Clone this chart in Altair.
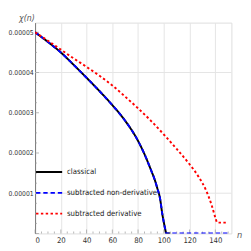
import altair as alt
import pandas as pd

# ---- data (chi in units of 1e-5) ----
series_names = ["classical", "subtracted non-derivative", "subtracted derivative"]
series_colors = ["#000000", "#0000ff", "#ff0000"]

n_classical = [0, 10, 20, 30, 40, 50, 60, 70, 80, 85, 90, 93, 95, 97, 99, 100, 101, 102, 105]
chi_classical = [5.00, 4.76, 4.50, 4.19, 3.87, 3.54, 3.19, 2.80, 2.30, 1.97, 1.58, 1.33, 1.12, 0.88, 0.45, 0.28, 0.12, 0.0, 0.0]

n_nonderiv = [0, 10, 20, 30, 40, 50, 60, 70, 80, 85, 90, 93, 95, 97, 99, 100, 101, 102, 150]
chi_nonderiv = [5.00, 4.76, 4.50, 4.19, 3.87, 3.54, 3.19, 2.80, 2.30, 1.97, 1.58, 1.33, 1.12, 0.88, 0.45, 0.28, 0.12, 0.0, 0.0]

n_deriv = [0, 10, 20, 30, 40, 50, 60, 70, 80, 90, 100, 110, 120, 127, 133, 137, 140, 141.5, 149]
chi_deriv = [5.00, 4.79, 4.57, 4.35, 4.14, 3.92, 3.68, 3.40, 3.11, 2.80, 2.46, 2.10, 1.72, 1.41, 1.06, 0.72, 0.40, 0.27, 0.27]

x_tick_labels = [0, 20, 40, 60, 80, 100, 120, 140]
x_minor_ticks = list(range(0, 151, 5))
y_tick_labels = [1e-5, 2e-5, 3e-5, 4e-5, 5e-5]
y_minor_ticks = [k * 0.25e-5 for k in range(0, 21)]
y_grid = [1e-5, 4e-5]

W, H = 203, 218
FONT = "DejaVu Sans Condensed, DejaVu Sans, sans-serif"

rows = []
for name, ns, cs in [(series_names[0], n_classical, chi_classical),
                     (series_names[1], n_nonderiv, chi_nonderiv),
                     (series_names[2], n_deriv, chi_deriv)]:
    for i, (n, c) in enumerate(zip(ns, cs)):
        rows.append({"series": name, "n": n, "chi": c * 1e-5, "i": i})
df = pd.DataFrame(rows)

xscale = alt.Scale(domain=[0, 152.5], nice=False, zero=False)
yscale = alt.Scale(domain=[0, 5.24e-5], nice=False)

xaxis = alt.Axis(values=x_tick_labels, grid=True, gridColor="#e4e4e4", gridWidth=1,
                 domain=False, ticks=False, labelPadding=3, labelFont=FONT,
                 labelFontSize=8, labelColor="#333333", labelOverlap=False,
                 title="n", titleFont=FONT, titleFontStyle="italic", titleFontWeight="normal",
                 titleFontSize=9.5, titleColor="#555555", titleAngle=0,
                 titleX=211, titleY=1, titleAlign="center", titleBaseline="middle")
yaxis = alt.Axis(values=y_tick_labels, format=".5f", grid=False,
                 domain=True, domainColor="#777777", ticks=False, labelPadding=2,
                 labelFont=FONT, labelFontSize=7, labelColor="#333333", labelOverlap=False,
                 title="χ(n)", titleFont=FONT, titleFontStyle="italic", titleFontWeight="normal",
                 titleFontSize=9, titleColor="#555555", titleAngle=0,
                 titleX=-9, titleY=-2, titleAlign="center", titleBaseline="alphabetic")

X = lambda f: alt.X(f, scale=xscale, axis=xaxis)
Y = lambda f: alt.Y(f, scale=yscale, axis=yaxis)

hgrid = alt.Chart(pd.DataFrame({"g": y_grid})).mark_rule(color="#e4e4e4", strokeWidth=1).encode(
    y=Y("g:Q")
)

xt = pd.DataFrame({"t": x_minor_ticks})
xt["major"] = xt["t"].isin(x_tick_labels)
minor_x = alt.Chart(xt[~xt["major"]]).mark_tick(color="#999999", thickness=1, size=2).encode(
    x=X("t:Q"), y=alt.value(H - 1)
)
major_x = alt.Chart(xt[xt["major"]]).mark_tick(color="#999999", thickness=1, size=4).encode(
    x=X("t:Q"), y=alt.value(H - 2)
)
yt = pd.DataFrame({"t": y_minor_ticks})
yt["major"] = [k % 4 == 0 for k in range(len(y_minor_ticks))]
minor_y = alt.Chart(yt[~yt["major"]]).mark_tick(color="#999999", thickness=1, size=2).encode(
    y=Y("t:Q"), x=alt.value(1)
)
major_y = alt.Chart(yt[yt["major"]]).mark_tick(color="#999999", thickness=1, size=4).encode(
    y=Y("t:Q"), x=alt.value(2)
)

lines = alt.Chart(df).mark_line(strokeWidth=2, interpolate="monotone", clip=True).encode(
    x=X("n:Q"),
    y=Y("chi:Q"),
    order="i:Q",
    color=alt.Color("series:N", scale=alt.Scale(domain=series_names, range=series_colors),
                    legend=alt.Legend(title=None, orient="none", legendX=0, legendY=140,
                                      symbolType="stroke", symbolSize=729, symbolStrokeWidth=2,
                                      labelFont=FONT, labelFontSize=8, labelColor="#222222",
                                      rowPadding=2.5, labelOffset=4, labelLimit=200)),
    strokeDash=alt.StrokeDash("series:N", scale=alt.Scale(domain=series_names,
                                                          range=[[1, 0], [4.5, 3], [2.5, 2.5]]),
                              legend=None),
)

chart = alt.layer(hgrid, minor_x, major_x, minor_y, major_y, lines).properties(
    width=W, height=H,
    autosize=alt.AutoSizeParams(type="none"),
    padding={"left": 28, "top": 11, "right": 12, "bottom": 14},
).configure_view(stroke=None).configure(background="white")

chart.save("out.html", embed_options={"renderer": "svg", "actions": False})
